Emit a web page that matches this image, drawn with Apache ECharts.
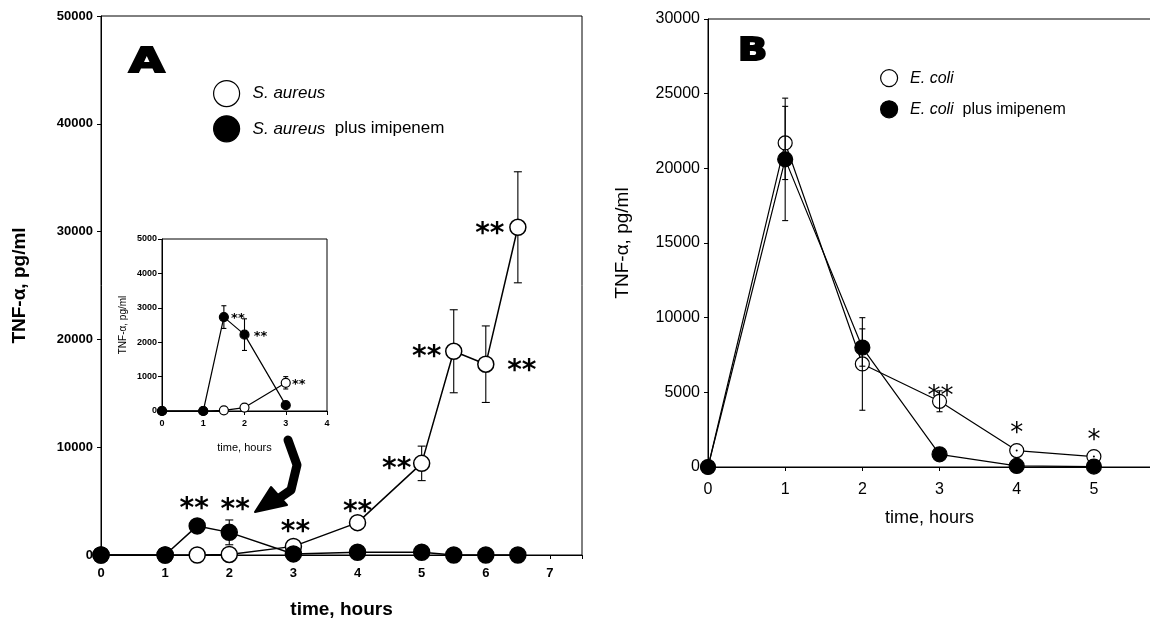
<!DOCTYPE html>
<html>
<head>
<meta charset="utf-8">
<script src="https://cdn.jsdelivr.net/npm/echarts@6/dist/echarts.min.js"></script>
<style>
html, body { margin: 0; padding: 0; background: #fff; }
#chart { width: 1150px; height: 621px; }
</style>
</head>
<body>
<div id="chart"></div>
<script>
// panel A : S. aureus
const timeA = [0, 1, 1.5, 2, 3, 4, 5, 5.5, 6, 6.5]
const aureus = [0, 0, 0, 50, 800, 3000, 8500, 18900, 17700, 30400]
const aureusSd = [0, 0, 0, 0, 0, 0, 1600, 3850, 3550, 5150]
const aureusStars = ['', '', '', '', '**', '**', '**', '**', '**', '**']
const aureusImi = [0, 0, 2700, 2100, 100, 250, 250, 0, 0, 0]
const aureusImiSd = [0, 0, 0, 1150, 0, 0, 0, 0, 0, 0]
const aureusImiStars = ['', '', '**', '**', '', '', '', '', '', '']

// inset of panel A (first 3 hours)
const timeInset = [0, 1, 1.5, 2, 3]
const insetAureus = [0, 0, 20, 100, 820]
const insetAureusSd = [0, 0, 0, 0, 180]
const insetAureusStars = ['', '', '', '', '**']
const insetImi = [0, 0, 2730, 2220, 170]
const insetImiSd = [0, 0, 330, 460, 0]
const insetImiStars = ['', '', '**', '**', '']

// panel B : E. coli
const timeB = [0, 1, 2, 3, 4, 5]
const coli = [0, 21700, 6900, 4400, 1100, 700]
const coliSd = [0, 2450, 3100, 700, 30, 30]
const coliStars = ['', '', '', '**', '*', '*']
const coliImi = [0, 20600, 8000, 850, 70, 30]
const coliImiSd = [0, 4100, 1250, 0, 0, 0]

const FONT = 'Liberation Sans, Arial, sans-serif'

// where each star label sits relative to its point (pixels)
const starOffset = {
  aureus: { 4: [2, -14], 5: [0, -10], 6: [-25, 6], 7: [-27, 6], 8: [36, 8], 9: [-28, 7] },
  aureusImi: { 2: [-3, -16], 3: [6, -22] },
  insetAureus: { 4: [13, 2] },
  insetImi: { 2: [14, 2], 3: [16, 2] },
  coli: { 3: [1, -4], 4: [0, -16], 5: [0, -15] }
}

function points(xs, ys, stars, key, fontSize, weight) {
  return xs.map(function (x, i) {
    const item = { value: [x, ys[i]] }
    if (stars && stars[i]) {
      item.label = {
        show: true,
        position: 'inside',
        formatter: stars[i],
        offset: starOffset[key][i],
        fontSize: fontSize,
        fontWeight: weight,
        fontFamily: 'DejaVu Sans',
        color: '#000'
      }
    }
    return item
  })
}

function lineSeries(name, data, idx, size, open, lw, z) {
  return {
    name: name,
    type: 'line',
    xAxisIndex: idx,
    yAxisIndex: idx,
    data: data,
    symbol: 'circle',
    symbolSize: size,
    showAllSymbol: true,
    z: z,
    lineStyle: { color: '#000', width: lw },
    itemStyle: { color: open ? '#fff' : '#000', borderColor: '#000', borderWidth: lw },
    label: { show: false },
    emphasis: { disabled: true }
  }
}

function errorSeries(xs, ys, sd, idx, cap, z) {
  const data = []
  xs.forEach(function (x, i) {
    if (sd[i] > 0) data.push([x, ys[i] - sd[i], ys[i] + sd[i]])
  })
  return {
    type: 'custom',
    xAxisIndex: idx,
    yAxisIndex: idx,
    z: z,
    silent: true,
    encode: { x: 0, y: [1, 2] },
    data: data,
    renderItem: function (params, api) {
      const lo = api.coord([api.value(0), api.value(1)])
      const hi = api.coord([api.value(0), api.value(2)])
      const style = { stroke: '#000', lineWidth: 1.1, fill: null }
      if (lo[1] - hi[1] < 3) {
        return { type: 'circle', shape: { cx: lo[0], cy: (lo[1] + hi[1]) / 2, r: 1 }, style: { fill: '#000' } }
      }
      return {
        type: 'group',
        children: [
          { type: 'line', shape: { x1: lo[0], y1: lo[1], x2: hi[0], y2: hi[1] }, style: style },
          { type: 'line', shape: { x1: lo[0] - cap, y1: lo[1], x2: lo[0] + cap, y2: lo[1] }, style: style },
          { type: 'line', shape: { x1: hi[0] - cap, y1: hi[1], x2: hi[0] + cap, y2: hi[1] }, style: style }
        ]
      }
    }
  }
}

function intOnly(v) {
  return Number.isInteger(v) ? String(v) : ''
}

function xAxis(idx, max, font, weight, margin, name, nameFont, nameGap, nameWeight) {
  return {
    type: 'value', gridIndex: idx, min: 0, max: max, interval: 1,
    splitLine: { show: false },
    axisLine: { lineStyle: { color: '#000', width: 1 } },
    axisTick: { length: 4, lineStyle: { color: '#000' } },
    axisLabel: { formatter: intOnly, fontSize: font, fontWeight: weight, color: '#000', margin: margin, fontFamily: FONT },
    name: name, nameLocation: 'middle', nameGap: nameGap,
    nameTextStyle: { fontSize: nameFont, fontWeight: nameWeight, color: '#000', fontFamily: FONT }
  }
}

function yAxis(idx, max, interval, font, weight, margin, name, nameFont, nameGap, nameWeight) {
  return {
    type: 'value', gridIndex: idx, min: 0, max: max, interval: interval,
    splitLine: { show: false },
    axisLine: { show: true, lineStyle: { color: '#000', width: 1 } },
    axisTick: { show: true, length: 4, lineStyle: { color: '#000' } },
    axisLabel: { formatter: function (v) { return String(v) }, fontSize: font, fontWeight: weight, color: '#000', margin: margin, fontFamily: FONT },
    name: name, nameLocation: 'middle', nameGap: nameGap,
    nameTextStyle: { fontSize: nameFont, fontWeight: nameWeight, color: '#000', fontFamily: FONT }
  }
}

const chart = echarts.init(document.getElementById('chart'))

chart.setOption({
  animation: false,
  backgroundColor: '#fff',
  grid: [
    { left: 101, top: 16, width: 481, height: 539, show: true, borderColor: '#000', borderWidth: 1, outerBoundsMode: 'none' },
    { left: 162, top: 239, width: 165, height: 172, show: true, borderColor: '#000', borderWidth: 1, backgroundColor: '#fff', outerBoundsMode: 'none' },
    { left: 708, top: 19, width: 443, height: 448, show: true, borderColor: '#000', borderWidth: 1, outerBoundsMode: 'none' }
  ],
  xAxis: [
    xAxis(0, 7.5, 13, 'bold', 12, 'time, hours', 19, 45, 'bold'),
    xAxis(1, 4, 9, 'bold', 8, 'time, hours', 11, 31, 'normal'),
    xAxis(2, 5.74, 16, 'normal', 15, 'time, hours', 18, 42, 'normal')
  ],
  yAxis: [
    yAxis(0, 50000, 10000, 13, 'bold', 8, 'TNF-α, pg/ml', 19, 72, 'bold'),
    yAxis(1, 5000, 1000, 9, 'bold', 5, 'TNF-α, pg/ml', 10, 34, 'normal'),
    yAxis(2, 30000, 5000, 16, 'normal', 8, 'TNF-α, pg/ml', 19, 76, 'normal')
  ],
  legend: [
    {
      data: [
        { name: 'S. aureus', itemStyle: { color: '#fff', borderColor: '#000', borderWidth: 1.2 } },
        { name: 'S. aureus plus imipenem', itemStyle: { color: '#000', borderColor: '#000', borderWidth: 1.2 } }
      ],
      orient: 'vertical', left: 208, top: 75, icon: 'circle',
      itemWidth: 42, itemHeight: 26, itemGap: 8, selectedMode: false,
      formatter: function (name) {
        return name === 'S. aureus' ? '{i|S. aureus}' : '{i|S. aureus}  plus imipenem'
      },
      textStyle: {
        fontSize: 17, color: '#000', fontFamily: FONT,
        rich: { i: { fontSize: 17, fontStyle: 'italic', color: '#000', fontFamily: FONT } }
      }
    },
    {
      data: [
        { name: 'E. coli', itemStyle: { color: '#fff', borderColor: '#000', borderWidth: 1.2 } },
        { name: 'E. coli plus imipenem', itemStyle: { color: '#000', borderColor: '#000', borderWidth: 1.2 } }
      ],
      orient: 'vertical', left: 875, top: 64, icon: 'circle',
      itemWidth: 32, itemHeight: 17, itemGap: 13, selectedMode: false,
      formatter: function (name) {
        return name === 'E. coli' ? '{i|E. coli}' : '{i|E. coli}  plus imipenem'
      },
      textStyle: {
        fontSize: 16, color: '#000', fontFamily: FONT,
        rich: { i: { fontSize: 16, fontStyle: 'italic', color: '#000', fontFamily: FONT } }
      }
    }
  ],
  graphic: [
    { type: 'text', x: 129, y: 46, scaleX: 1.35, style: { text: 'A', font: 'bold 34px "DejaVu Sans"', fill: '#000', stroke: '#000', lineWidth: 2, verticalAlign: 'top' } },
    { type: 'text', x: 738, y: 36, scaleX: 1.2, style: { text: 'B', font: 'bold 32px "DejaVu Sans"', fill: '#000', stroke: '#000', lineWidth: 2, verticalAlign: 'top' } },
    // arrow from the inset down to the early time points
    { type: 'polyline', shape: { points: [[288, 440], [297, 465], [291, 490], [278, 499]] }, style: { stroke: '#000', lineWidth: 9, lineCap: 'round', lineJoin: 'round', fill: null } },
    { type: 'polygon', shape: { points: [[255, 512], [271, 487], [287, 505]] }, style: { fill: '#000', stroke: '#000', lineWidth: 2, lineJoin: 'round' } }
  ],
  series: [
    errorSeries(timeA, aureus, aureusSd, 0, 4, 1),
    errorSeries(timeA, aureusImi, aureusImiSd, 0, 4, 1),
    lineSeries('S. aureus', points(timeA, aureus, aureusStars, 'aureus', 28, 'bold'), 0, 16, true, 1.5, 3),
    lineSeries('S. aureus plus imipenem', points(timeA, aureusImi, aureusImiStars, 'aureusImi', 28, 'bold'), 0, 16, false, 1.5, 4),

    errorSeries(timeInset, insetAureus, insetAureusSd, 1, 2.5, 5),
    errorSeries(timeInset, insetImi, insetImiSd, 1, 2.5, 5),
    lineSeries('inset S. aureus', points(timeInset, insetAureus, insetAureusStars, 'insetAureus', 13, 'bold'), 1, 9, true, 1.2, 6),
    lineSeries('inset S. aureus plus imipenem', points(timeInset, insetImi, insetImiStars, 'insetImi', 13, 'bold'), 1, 9, false, 1.2, 7),

    lineSeries('E. coli', points(timeB, coli, coliStars, 'coli', 26, 'normal'), 2, 14, true, 1.2, 3),
    lineSeries('E. coli plus imipenem', points(timeB, coliImi, null, 'coliImi', 26, 'normal'), 2, 15, false, 1.2, 4),
    errorSeries(timeB, coli, coliSd, 2, 3, 5),
    errorSeries(timeB, coliImi, coliImiSd, 2, 3, 5)
  ]
})
</script>
</body>
</html>
